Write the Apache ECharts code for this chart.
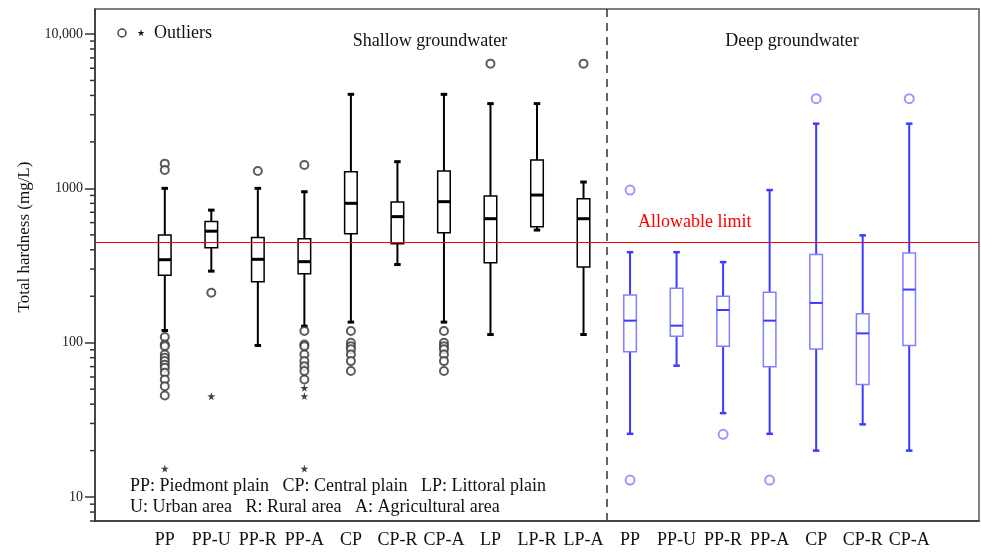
<!DOCTYPE html>
<html>
<head>
<meta charset="utf-8">
<script src="https://cdn.jsdelivr.net/npm/echarts/dist/echarts.min.js"></script>
<style>
  html, body { margin: 0; padding: 0; background: #fff; }
  #main { width: 981px; height: 553px; }
</style>
</head>
<body>
<div id="main"></div>
<script>
// categories (S- = shallow, D- = deep, blank ones just pad the axis)
var shallowCats = ['PP', 'PP-U', 'PP-R', 'PP-A', 'CP', 'CP-R', 'CP-A', 'LP', 'LP-R', 'LP-A'];
var deepCats = ['PP', 'PP-U', 'PP-R', 'PP-A', 'CP', 'CP-R', 'CP-A'];

// shallow groundwater box stats (mg/L)
var shallowLow  = [120, 291, 96, 128, 136, 321, 136, 113, 537, 113];
var shallowQ1   = [274, 413, 248, 280, 508, 438, 516, 330, 565, 309];
var shallowMed  = [345, 528, 347, 335, 800, 656, 820, 636, 905, 636];
var shallowQ3   = [498, 611, 481, 472, 1282, 815, 1295, 891, 1525, 857];
var shallowHigh = [1000, 723, 1000, 951, 4066, 1489, 4066, 3540, 3540, 1099];

// deep groundwater box stats (mg/L)
var deepLow  = [25.7, 71, 35, 25.7, 20, 29.6, 20];
var deepQ1   = [87.5, 110, 95, 70, 91, 53.7, 96];
var deepMed  = [139, 129, 163, 139, 181, 115, 221];
var deepQ3   = [204, 225, 200, 212, 373, 154, 381];
var deepHigh = [386, 386, 333, 975, 2624, 496, 2624];

// outliers [category, value]
var shallowCircles = [
  ['S-PP', 1446], ['S-PP', 1314], ['S-PP', 109], ['S-PP', 97.5], ['S-PP', 95], ['S-PP', 84],
  ['S-PP', 80], ['S-PP', 76], ['S-PP', 72], ['S-PP', 68.9], ['S-PP', 64], ['S-PP', 57.8],
  ['S-PP', 52.3], ['S-PP', 45.5],
  ['S-PP-U', 211],
  ['S-PP-R', 1295],
  ['S-PP-A', 1416], ['S-PP-A', 119], ['S-PP-A', 97.5], ['S-PP-A', 95], ['S-PP-A', 84],
  ['S-PP-A', 76], ['S-PP-A', 70.5], ['S-PP-A', 65.6], ['S-PP-A', 57.8],
  ['S-CP', 119], ['S-CP', 100], ['S-CP', 95], ['S-CP', 90.6], ['S-CP', 84], ['S-CP', 76], ['S-CP', 65.6],
  ['S-CP-A', 119], ['S-CP-A', 100], ['S-CP-A', 95], ['S-CP-A', 90.6], ['S-CP-A', 84], ['S-CP-A', 76], ['S-CP-A', 65.6],
  ['S-LP', 6427],
  ['S-LP-A', 6427]
];
var shallowStars = [
  ['S-PP', 15.3], ['S-PP-U', 45], ['S-PP-A', 51], ['S-PP-A', 45.1], ['S-PP-A', 15.3]
];
var deepCircles = [
  ['D-PP', 975], ['D-PP', 12.9], ['D-PP-R', 25.5], ['D-PP-A', 12.9], ['D-CP', 3812], ['D-CP-A', 3812]
];

// y axis ticks
var majorTicks = [10, 100, 1000, 10000];
var minorTicks = [7, 8, 9, 20, 30, 40, 50, 60, 70, 80, 90, 200, 300, 400, 500, 600, 700, 800, 900,
  2000, 3000, 4000, 5000, 6000, 7000, 8000, 9000];
var limitValue = 450;

var serif = '"Liberation Serif", "Times New Roman", serif';
var starPath = 'path://M50,0 L61,35 L98,35 L68,57 L79,91 L50,70 L21,91 L32,57 L2,35 L39,35 Z';

var allCats = [''].concat(
  shallowCats.map(function (c) { return 'S-' + c; }),
  deepCats.map(function (c) { return 'D-' + c; }),
  ['']
);

function boxData(prefix, cats, lo, q1, md, q3, hi) {
  return cats.map(function (c, i) {
    return [prefix + c, lo[i], q1[i], md[i], q3[i], hi[i]];
  });
}

function boxRenderer(st) {
  return function (params, api) {
    var x = api.value(0);
    var lo = api.coord([x, api.value(1)]);
    var q1 = api.coord([x, api.value(2)]);
    var md = api.coord([x, api.value(3)]);
    var q3 = api.coord([x, api.value(4)]);
    var hi = api.coord([x, api.value(5)]);
    var band = api.coord([x + 1, api.value(3)])[0] - md[0];
    var bw = band * 0.27;
    var cw = band * 0.14;
    var cx = md[0];
    return {
      type: 'group',
      children: [
        { type: 'line', shape: { x1: cx, y1: hi[1], x2: cx, y2: q3[1] },
          style: { stroke: st.whisker, lineWidth: st.whiskerWidth } },
        { type: 'line', shape: { x1: cx, y1: q1[1], x2: cx, y2: lo[1] },
          style: { stroke: st.whisker, lineWidth: st.whiskerWidth } },
        { type: 'line', shape: { x1: cx - cw / 2, y1: hi[1], x2: cx + cw / 2, y2: hi[1] },
          style: { stroke: st.whisker, lineWidth: st.capWidth } },
        { type: 'line', shape: { x1: cx - cw / 2, y1: lo[1], x2: cx + cw / 2, y2: lo[1] },
          style: { stroke: st.whisker, lineWidth: st.capWidth } },
        { type: 'rect', shape: { x: cx - bw / 2, y: q3[1], width: bw, height: q1[1] - q3[1] },
          style: { fill: '#fff', stroke: st.box, lineWidth: 1.5 } },
        { type: 'line', shape: { x1: cx - bw / 2, y1: md[1], x2: cx + bw / 2, y2: md[1] },
          style: { stroke: st.median, lineWidth: st.medianWidth } }
      ]
    };
  };
}

// short minor ticks on the left edge of the log axis
function minorTickRenderer(params, api) {
  var y = api.coord([0, api.value(1)])[1];
  var x0 = params.coordSys.x;
  return {
    type: 'line',
    shape: { x1: x0 - 5, y1: y, x2: x0, y2: y },
    style: { stroke: '#333', lineWidth: 1.5 }
  };
}

var myChart = echarts.init(document.getElementById('main'));

var option = {
  animation: false,
  backgroundColor: '#fff',
  title: [
    { text: 'Shallow groundwater', left: 425, top: 27, textAlign: 'center',
      textStyle: { fontFamily: serif, fontSize: 18, fontWeight: 'normal', color: '#111' } },
    { text: 'Deep groundwater', left: 787, top: 27, textAlign: 'center',
      textStyle: { fontFamily: serif, fontSize: 18, fontWeight: 'normal', color: '#111' } }
  ],
  graphic: [
    { type: 'text', x: 25, y: 237, rotation: Math.PI / 2,
      style: { text: 'Total hardness (mg/L)', font: '17px ' + serif, fill: '#111',
        textAlign: 'center', textVerticalAlign: 'middle' } },
    { type: 'circle', shape: { cx: 122, cy: 33, r: 4 }, style: { fill: 'none', stroke: '#444', lineWidth: 1.5 } },
    { type: 'text', x: 141, y: 34, style: { text: '\u2605', font: '9px ' + serif, fill: '#111',
        textAlign: 'center', textVerticalAlign: 'middle' } },
    { type: 'text', x: 154, y: 33, style: { text: 'Outliers', font: '18px ' + serif, fill: '#111',
        textVerticalAlign: 'middle' } },
    { type: 'text', x: 638, y: 222, style: { text: 'Allowable limit', font: '18px ' + serif, fill: '#f00',
        textVerticalAlign: 'middle' } },
    { type: 'text', x: 130, y: 486, style: { text: 'PP: Piedmont plain   CP: Central plain   LP: Littoral plain',
        font: '18px ' + serif, fill: '#111', textVerticalAlign: 'middle' } },
    { type: 'text', x: 130, y: 507, style: { text: 'U: Urban area   R: Rural area   A: Agricultural area',
        font: '18px ' + serif, fill: '#111', textVerticalAlign: 'middle' } }
  ],
  grid: { left: 95, right: 2, top: 9, bottom: 32, show: true, borderColor: '#555', borderWidth: 1.5 },
  xAxis: [
    {
      type: 'category',
      data: allCats,
      boundaryGap: true,
      axisLine: { lineStyle: { color: '#333', width: 1.5 } },
      axisTick: { alignWithLabel: true, length: 8, lineStyle: { color: '#333', width: 1.5 },
        interval: function (i, v) { return v !== ''; } },
      axisLabel: { interval: 0, margin: 10, fontFamily: serif, fontSize: 18, color: '#111',
        formatter: function (v) { return v.replace(/^[SD]-/, ''); } },
      splitLine: { show: false }
    },
    { type: 'value', min: 0, max: allCats.length, show: false }
  ],
  yAxis: {
    type: 'log',
    logBase: 10,
    min: 7,
    max: 14520,
    axisLine: { show: true, lineStyle: { color: '#333', width: 1.5 } },
    axisTick: { show: true, length: 10, customValues: majorTicks, lineStyle: { color: '#333', width: 1.5 } },
    axisLabel: { margin: 12, customValues: majorTicks, fontFamily: serif, fontSize: 14, color: '#222',
      formatter: function (v) { return v >= 10000 ? '10,000' : String(Math.round(v)); } },
    splitLine: { show: false },
    minorTick: { show: false }
  },
  series: [
    {
      name: 'Minor ticks',
      type: 'custom',
      silent: true,
      clip: false,
      renderItem: minorTickRenderer,
      encode: { x: 0, y: 1 },
      data: minorTicks.map(function (v) { return [0, v]; }),
      z: 1
    },
    {
      name: 'Shallow',
      type: 'custom',
      renderItem: boxRenderer({ whisker: '#000', box: '#000', median: '#000',
        whiskerWidth: 2, capWidth: 3, medianWidth: 3 }),
      encode: { x: 0, y: [1, 2, 3, 4, 5] },
      data: boxData('S-', shallowCats, shallowLow, shallowQ1, shallowMed, shallowQ3, shallowHigh),
      z: 2
    },
    {
      name: 'Deep',
      type: 'custom',
      renderItem: boxRenderer({ whisker: '#3b3bff', box: '#8080ff', median: '#3b3bff',
        whiskerWidth: 2, capWidth: 2.5, medianWidth: 2 }),
      encode: { x: 0, y: [1, 2, 3, 4, 5] },
      data: boxData('D-', deepCats, deepLow, deepQ1, deepMed, deepQ3, deepHigh),
      z: 2
    },
    {
      name: 'Shallow outliers',
      type: 'scatter',
      symbol: 'emptyCircle',
      symbolSize: 8,
      itemStyle: { color: '#333', borderColor: '#333', borderWidth: 1.5 },
      data: shallowCircles,
      z: 3
    },
    {
      name: 'Extreme outliers',
      type: 'scatter',
      symbol: starPath,
      symbolSize: 8,
      itemStyle: { color: '#111' },
      data: shallowStars,
      z: 3
    },
    {
      name: 'Deep outliers',
      type: 'scatter',
      symbol: 'emptyCircle',
      symbolSize: 9,
      itemStyle: { color: '#8080ff', borderColor: '#8080ff', borderWidth: 1.5 },
      data: deepCircles,
      z: 3
    },
    {
      name: 'Guides',
      type: 'scatter',
      xAxisIndex: 1,
      yAxisIndex: 0,
      data: [],
      z: 5,
      markLine: {
        silent: true,
        symbol: 'none',
        label: { show: false },
        data: [
          { yAxis: limitValue, lineStyle: { color: '#f00', width: 1, type: 'solid' } },
          { xAxis: shallowCats.length + 1, lineStyle: { color: '#333', width: 1.5, type: [8, 6] } }
        ]
      }
    }
  ]
};

myChart.setOption(option);
</script>
</body>
</html>
